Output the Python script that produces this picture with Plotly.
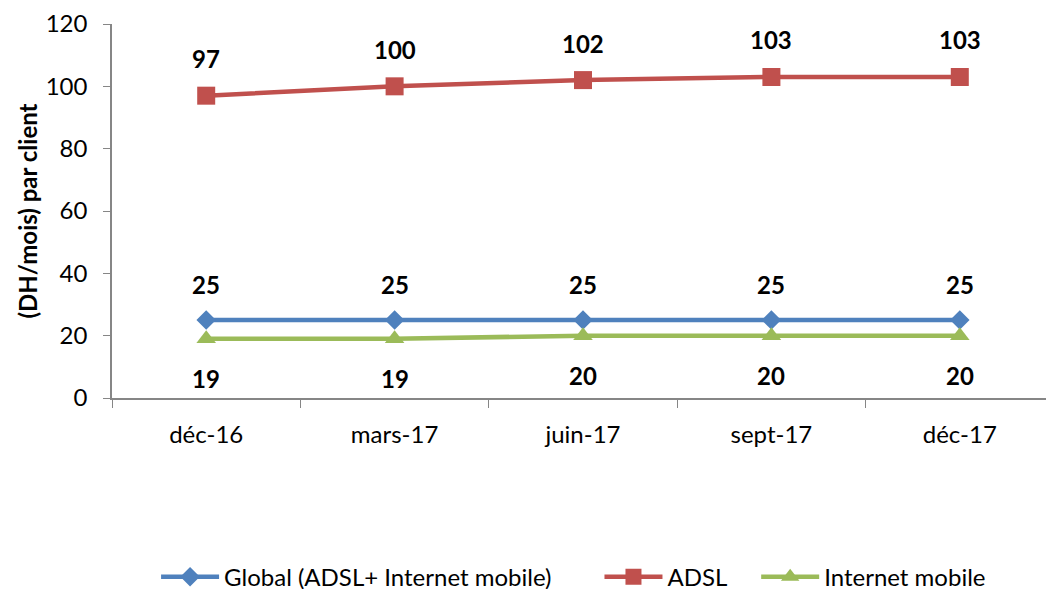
import plotly.graph_objects as go

categories = ["déc-16", "mars-17", "juin-17", "sept-17", "déc-17"]
global_vals = [25, 25, 25, 25, 25]
adsl_vals = [97, 100, 102, 103, 103]
mobile_vals = [19, 19, 20, 20, 20]

names = ["Global (ADSL+ Internet mobile)", "ADSL", "Internet mobile"]
legend_pad = [7, 4, 0]
colors = ["#4F81BD", "#C0504D", "#9BBB59"]
symbols = ["diamond", "square", "triangle-up"]
sizes = [15, 18, 17]
series = [global_vals, adsl_vals, mobile_vals]
label_shift = [36, 37, -40]

FONT = "Lato, Carlito, Calibri, sans-serif"
FS = 24

fig = go.Figure()
for name, pad, vals, col, sym, sz in zip(names, legend_pad, series, colors, symbols, sizes):
    fig.add_trace(go.Scatter(
        x=categories, y=vals, name=name + "\u00a0" * pad, mode="lines+markers",
        line=dict(color=col, width=4.5),
        marker=dict(symbol=sym, size=sz, color=col),
    ))

annotations = []
for vals, shift in zip(series, label_shift):
    for c, v in zip(categories, vals):
        annotations.append(dict(
            x=c, y=v, text=f"<b>{v}</b>", showarrow=False, yshift=shift,
            font=dict(family=FONT, size=FS, color="#000000"),
        ))

fig.update_layout(
    width=1054, height=589,
    margin=dict(l=104, r=8, t=16, b=199, autoexpand=False),
    paper_bgcolor="white", plot_bgcolor="white",
    font=dict(family=FONT, size=FS, color="#000000"),
    showlegend=True,
    legend=dict(orientation="h", x=0.49, xanchor="center", y=-0.479, yanchor="middle",
                font=dict(family=FONT, size=FS), tracegroupgap=0, itemwidth=58),
    annotations=annotations,
    xaxis=dict(
        type="category", range=[-0.5, 4.5], showgrid=False, automargin=False,
        showline=True, linecolor="#868686", linewidth=1.5,
        ticks="outside", tickson="boundaries", ticklen=8, tickcolor="#868686",
        tickfont=dict(family=FONT, size=FS), zeroline=False, ticklabelstandoff=14,
    ),
    yaxis=dict(
        range=[0, 120], dtick=20, showgrid=False, automargin=False,
        showline=True, linecolor="#868686", linewidth=1.5,
        ticks="outside", ticklen=7, tickcolor="#868686", ticklabelstandoff=11,
        tickfont=dict(family=FONT, size=FS), zeroline=False,
        title=dict(text="<b>(DH/mois) par client</b>", font=dict(family=FONT, size=FS), standoff=1),
    ),
)

fig.write_html("out.html")
